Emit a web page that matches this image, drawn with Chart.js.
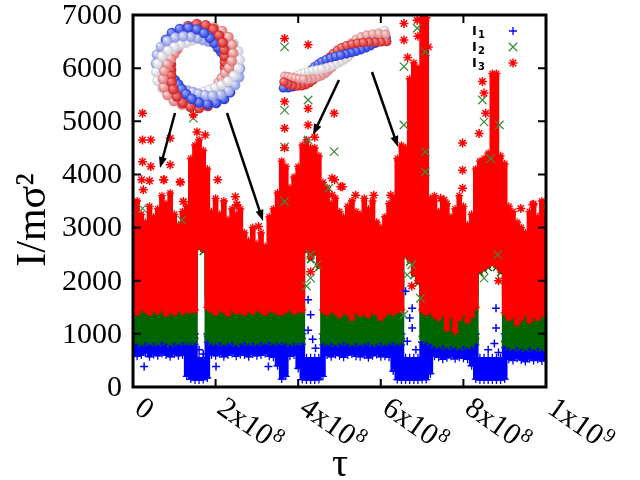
<!DOCTYPE html>
<html>
<head>
<meta charset="utf-8">
<script src="https://cdn.jsdelivr.net/npm/chart.js@4.4.1/dist/chart.umd.min.js"></script>
<style>
  html, body { margin: 0; padding: 0; background: #fff; }
  #wrap { width: 640px; height: 480px; }
</style>
</head>
<body>
<div id="wrap"><canvas id="chart" width="640" height="480"></canvas></div>
<script>
// time grid in units of 1e7 (every 1e7 steps)
const TAU_UNIT = 1e7;
const tauGrid = [
  0, 1, 2, 3, 4, 5, 6, 7, 8, 9, 10, 11, 12, 13, 14, 15, 16, 17, 18, 19,
  20, 21, 22, 23, 24, 25, 26, 27, 28, 29, 30, 31, 32, 33, 34, 35, 36, 37, 38, 39,
  40, 41, 42, 43, 44, 45, 46, 47, 48, 49, 50, 51, 52, 53, 54, 55, 56, 57, 58, 59,
  60, 61, 62, 63, 64, 65, 66, 67, 68, 69, 70, 71, 72, 73, 74, 75, 76, 77, 78, 79,
  80, 81, 82, 83, 84, 85, 86, 87, 88, 89, 90, 91, 92, 93, 94, 95, 96, 97, 98, 99, 100
];

// I3 dense cloud: upper and lower edge
const i3High = [
  3000, 3500, 3250, 3100, 3400, 3200, 3350, 3600, 3450, 3650, 3250, 3050, 3300, 3400, 4300, 4550, 4650, 4450, 4100, 3300,
  3550, 3250, 3500, 3150, 3350, 3250, 3350, 2900, 2750, 3000, 2700, 2900, 2650, 3200, 3350, 3650, 4250, 4150, 3750, 3950,
  4150, 4550, 4650, 4500, 4500, 4350, 3850, 3750, 3450, 3550, 3300, 3200, 3400, 3500, 3300, 3250, 3550, 3350, 3500, 3100,
  3000, 3200, 3450, 3550, 4300, 4550, 4500, 5800, 6100, 6000, 6950, 6950, 3550, 3600, 3300, 3500, 3450, 3200, 3350, 3600,
  3400, 3050, 3250, 4100, 4250, 4300, 4400, 5900, 5900, 4350, 4200, 3400, 3300, 3100, 3000, 2900, 3300, 3450, 3200, 3500, 3300
];
const i3Low = [
  1450, 1400, 1500, 1450, 1400, 1480, 1420, 1500, 1380, 1450, 1400, 1480, 1420, 1450, 1450, 1450, 2650, 2600, 1500, 1450,
  1400, 1480, 1450, 1380, 1500, 1420, 1450, 1400, 1480, 1420, 1500, 1450, 1400, 1480, 1450, 1420, 1400, 1450, 1500, 1420,
  1450, 1450, 2600, 2450, 2550, 2300, 1450, 1400, 1480, 1420, 1350, 1450, 1400, 1300, 1450, 1380, 1420, 1350, 1450, 1400,
  1300, 1380, 1450, 1400, 1450, 1450, 2500, 2400, 2150, 2000, 1450, 1400, 1450, 1350, 1300, 1400, 1100, 1350, 1050, 1300,
  1400, 1250, 1350, 1500, 2200, 2250, 2300, 2350, 2300, 2200, 1400, 1300, 1350, 1200, 1300, 1400, 1250, 1350, 1300, 1400, 1350
];

// I2 dense cloud
const i2High = [
  1700, 1700, 1700, 1700, 1700, 1700, 1700, 1700, 1700, 1700, 1700, 1700, 1700, 1700, 1700, 1700, 2800, 2750, 1700, 1700,
  1700, 1700, 1700, 1700, 1700, 1700, 1700, 1700, 1700, 1700, 1700, 1700, 1700, 1700, 1700, 1700, 1700, 1700, 1700, 1700,
  1700, 1700, 2750, 2600, 2700, 2450, 1700, 1700, 1700, 1700, 1700, 1700, 1700, 1700, 1700, 1700, 1700, 1700, 1700, 1700,
  1700, 1700, 1700, 1700, 1700, 1700, 2650, 2550, 2300, 2150, 1700, 1700, 1700, 1700, 1700, 1700, 1700, 1700, 1700, 1700,
  1700, 1700, 1700, 1700, 2350, 2400, 2450, 2500, 2450, 2350, 1700, 1700, 1700, 1700, 1700, 1700, 1700, 1700, 1700, 1700, 1700
];
const i2Low = [
  880, 850, 820, 870, 840, 860, 830, 880, 850, 820, 860, 840, 870, 850, 850, 860, 2600, 2550, 900, 850,
  840, 870, 830, 860, 880, 820, 850, 870, 840, 860, 830, 870, 850, 880, 840, 860, 870, 850, 830, 860,
  850, 860, 2550, 2400, 2500, 2250, 850, 830, 860, 820, 850, 870, 840, 820, 860, 830, 850, 870, 820, 840,
  860, 830, 850, 870, 840, 850, 2450, 2350, 2100, 1950, 900, 870, 850, 800, 780, 820, 760, 800, 780, 750,
  800, 770, 790, 850, 2150, 2200, 2250, 2300, 2250, 2150, 800, 760, 740, 780, 750, 730, 770, 740, 760, 730, 750
];

// I1 dense cloud
const i1High = [
  1000, 1000, 1000, 1000, 1000, 1000, 1000, 1000, 1000, 1000, 1000, 1000, 1000, 1000, 1000, 1000, 550, 550, 1000, 1000,
  1000, 1000, 1000, 1000, 1000, 1000, 1000, 1000, 1000, 1000, 1000, 1000, 1000, 1000, 1000, 1000, 1000, 1000, 1000, 1000,
  1000, 1000, 550, 550, 550, 550, 1000, 1000, 1000, 1000, 1000, 1000, 1000, 1000, 1000, 1000, 1000, 1000, 1000, 1000,
  1000, 1000, 1000, 1000, 1000, 1000, 550, 550, 550, 550, 850, 850, 1000, 1000, 1000, 1000, 1000, 1000, 1000, 1000,
  1000, 1000, 1000, 1000, 550, 550, 550, 550, 550, 550, 1000, 1000, 1000, 1000, 1000, 1000, 1000, 1000, 1000, 1000, 1000
];
const i1Low = [
  620, 580, 600, 640, 570, 610, 590, 630, 600, 570, 620, 590, 600, 200, 150, 130, 130, 140, 170, 600,
  590, 620, 570, 600, 630, 580, 610, 600, 570, 620, 590, 600, 630, 580, 560, 400, 150, 200, 580, 600,
  350, 140, 130, 130, 130, 140, 200, 600, 570, 610, 590, 560, 600, 620, 580, 570, 600, 550, 590, 610,
  570, 580, 560, 300, 140, 130, 130, 130, 130, 130, 140, 140, 250, 580, 560, 520, 550, 580, 530, 560,
  540, 520, 400, 150, 130, 130, 130, 130, 130, 130, 150, 520, 500, 540, 510, 480, 530, 500, 520, 490, 510
];

// isolated markers outside the dense clouds, [tau / 1e7, value]
const i3Points = [
  [2.3, 5150], [2.3, 4650], [4.3, 4650], [9.0, 4680], [2.3, 4240], [4.3, 4150], [9.0, 4180], [2.1, 3900],
  [4.0, 3880], [7.5, 3900], [11.5, 3850], [20.5, 3900], [17.5, 4740], [14.6, 5120], [15.5, 4800],
  [2.5, 3710], [7.4, 3900], [11.4, 3860], [12.2, 3490], [24.8, 3580], [25.2, 3425],
  [36.7, 6560], [42.4, 6440], [36.7, 5370], [42.4, 5240], [36.7, 4870], [42.4, 4930], [36.7, 4500], [44.0, 4700],
  [48.7, 5150], [48.2, 3930], [48.8, 3900], [48.2, 3610], [25.1, 3430], [30.4, 3020], [43.0, 2170],
  [65.6, 6840], [65.6, 6530], [68.8, 6900], [70.9, 6950], [66.5, 6200], [69.0, 6600], [70.5, 6700],
  [71.5, 6400], [67.5, 1900], [50.3, 3770], [50.7, 3770], [53.9, 3610], [58.3, 3610], [62.4, 3610], [62.8, 3425],
  [74.5, 3550], [75.3, 3520],
  [79.8, 4590], [79.8, 4080], [79.8, 3740], [84.6, 5750], [85.0, 5530], [85.4, 5150], [83.8, 4770], [88.5, 2000],
  [93.9, 3360], [96.8, 3430], [99.2, 3270]
];
const i2Points = [
  [14.6, 5060], [2.3, 3360], [11.8, 3140], [36.7, 6400], [42.4, 5400], [36.7, 5210], [42.4, 4650], [36.7, 4520],
  [48.7, 4430], [47.4, 3740], [43.0, 2050], [43.0, 2490], [36.7, 3490], [42.0, 1900], [44.5, 2300],
  [65.6, 6030], [68.8, 6750], [70.8, 6310], [65.6, 4930], [70.8, 4430], [66.4, 2110], [69.6, 1670], [65.6, 1360],
  [70.8, 4050], [67.5, 2300], [84.6, 5400], [85.0, 4990], [88.7, 4930], [86.6, 4300], [85.0, 2050], [88.3, 2490]
];
const i1Points = [
  [2.7, 385], [20.1, 385], [32.8, 385], [42.4, 1640], [42.4, 1070], [44.2, 730], [43.0, 1360], [43.5, 900],
  [16.0, 700], [17.0, 620], [67.6, 1480], [67.6, 1110], [66.4, 860], [66.0, 1800], [67.0, 1300], [68.5, 700],
  [87.9, 1480], [87.9, 1110], [87.5, 820], [86.0, 700], [88.5, 650]
];

const yTicks = [0, 1000, 2000, 3000, 4000, 5000, 6000, 7000];
const xTicks = [0, 2e8, 4e8, 6e8, 8e8, 1e9];
const xTickBase = ['0', '2x10', '4x10', '6x10', '8x10', '1x10'];
const xTickExp = ['', '8', '8', '8', '8', '9'];
const legendSubs = ['1', '2', '3'];

const RED = '#ff0000', GREEN = '#006400', GREEN_MARK = '#3b8a3b', BLUE = '#0000ff';
const SERIF = '"Liberation Serif", "DejaVu Serif", serif';

function band(values) {
  return tauGrid.map((t, i) => ({ x: t * TAU_UNIT, y: values[i] }));
}
function pts(list) {
  return list.map(p => ({ x: p[0] * TAU_UNIT, y: p[1] }));
}
// one edge of a dense cloud; the markers on it roughen the outline like the original scatter
function edge(values, color, fill, order, style, radius) {
  return {
    data: band(values), fill: fill, backgroundColor: color, borderColor: color,
    borderWidth: 1.5, pointRadius: radius, pointStyle: style, pointBorderWidth: 1.3,
    stepped: 'middle', order: order
  };
}

// shaded bead for the two molecule sketches
function bead(ctx, x, y, r, c) {
  const g = ctx.createRadialGradient(x - r * 0.4, y - r * 0.4, r * 0.1, x, y, r);
  g.addColorStop(0, c[0]);
  g.addColorStop(1, c[1]);
  ctx.fillStyle = g;
  ctx.beginPath();
  ctx.arc(x, y, r, 0, Math.PI * 2);
  ctx.fill();
}

function drawRing(ctx) {
  const cols = [['#ffffff', '#c9c9d8'], ['#ffd6d6', '#d97070'], ['#ff8a8a', '#c81c1c'],
                ['#9aa8ff', '#1f33d6'], ['#e4e8ff', '#8491e0']];
  const cx = 198, cy = 66, rot = -0.35, beads = [];
  for (let k = 0; k < cols.length; k++) {
    for (let j = 0; j < 30; j++) {
      const th = j / 30 * Math.PI * 2;
      const ph = th * 2 + k * 1.2566;
      const off = 8 * Math.cos(ph);
      const ex = (35 + off) * Math.cos(th), ey = (34 + off) * Math.sin(th);
      beads.push({
        x: cx + ex * Math.cos(rot) - ey * Math.sin(rot),
        y: cy + ex * Math.sin(rot) + ey * Math.cos(rot),
        z: Math.sin(ph), c: cols[k]
      });
    }
  }
  beads.sort((a, b) => a.z - b.z).forEach(b => bead(ctx, b.x, b.y, 5.2, b.c));
}

function drawRibbon(ctx) {
  const cols = [['#ff9a9a', '#cc2020'], ['#9aa8ff', '#1f33d6'], ['#ffffff', '#d0c8d0'], ['#ffd6d6', '#d98080']];
  const P = [[284, 82], [318, 86], [336, 44], [386, 36]];
  const beads = [];
  for (let k = 0; k < cols.length; k++) {
    for (let j = 0; j <= 24; j++) {
      const t = j / 24, u = 1 - t;
      const px = u * u * u * P[0][0] + 3 * u * u * t * P[1][0] + 3 * u * t * t * P[2][0] + t * t * t * P[3][0];
      const py = u * u * u * P[0][1] + 3 * u * u * t * P[1][1] + 3 * u * t * t * P[2][1] + t * t * t * P[3][1];
      const dx = 3 * u * u * (P[1][0] - P[0][0]) + 6 * u * t * (P[2][0] - P[1][0]) + 3 * t * t * (P[3][0] - P[2][0]);
      const dy = 3 * u * u * (P[1][1] - P[0][1]) + 6 * u * t * (P[2][1] - P[1][1]) + 3 * t * t * (P[3][1] - P[2][1]);
      const len = Math.hypot(dx, dy);
      const ph = t * Math.PI * 2.4 + k * Math.PI / 2;
      const off = 6 * Math.sin(ph);
      beads.push({ x: px - dy / len * off, y: py + dx / len * off, z: Math.cos(ph), c: cols[k] });
    }
  }
  beads.sort((a, b) => a.z - b.z).forEach(b => bead(ctx, b.x, b.y, 4.6, b.c));
}

function arrow(ctx, x0, y0, x1, y1) {
  const ang = Math.atan2(y1 - y0, x1 - x0);
  ctx.strokeStyle = '#000';
  ctx.fillStyle = '#000';
  ctx.lineWidth = 2.5;
  ctx.beginPath();
  ctx.moveTo(x0, y0);
  ctx.lineTo(x1 - 8 * Math.cos(ang), y1 - 8 * Math.sin(ang));
  ctx.stroke();
  ctx.beginPath();
  ctx.moveTo(x1, y1);
  ctx.lineTo(x1 - 11 * Math.cos(ang) + 4 * Math.sin(ang), y1 - 11 * Math.sin(ang) - 4 * Math.cos(ang));
  ctx.lineTo(x1 - 11 * Math.cos(ang) - 4 * Math.sin(ang), y1 - 11 * Math.sin(ang) + 4 * Math.cos(ang));
  ctx.closePath();
  ctx.fill();
}

const decor = {
  id: 'decor',
  afterDraw(chart) {
    const { ctx, chartArea: a, scales: { x, y } } = chart;
    ctx.save();

    // sketches and arrows
    drawRing(ctx);
    drawRibbon(ctx);
    arrow(ctx, 175, 113, 160, 168);
    arrow(ctx, 227, 113, 263, 221);
    arrow(ctx, 339, 80, 313, 135);
    arrow(ctx, 372, 72, 398, 147);

    // frame and inward ticks on all sides
    ctx.strokeStyle = '#000';
    ctx.lineWidth = 3;
    ctx.strokeRect(a.left, a.top, a.right - a.left, a.bottom - a.top);
    ctx.lineWidth = 2;
    ctx.beginPath();
    yTicks.forEach(v => {
      const py = y.getPixelForValue(v);
      ctx.moveTo(a.left, py); ctx.lineTo(a.left + 8, py);
      ctx.moveTo(a.right, py); ctx.lineTo(a.right - 8, py);
    });
    xTicks.forEach(v => {
      const px = x.getPixelForValue(v);
      ctx.moveTo(px, a.bottom); ctx.lineTo(px, a.bottom - 8);
      ctx.moveTo(px, a.top); ctx.lineTo(px, a.top + 8);
    });
    ctx.stroke();

    // y tick labels
    ctx.fillStyle = '#000';
    ctx.font = '30px ' + SERIF;
    ctx.textAlign = 'right';
    ctx.textBaseline = 'middle';
    yTicks.forEach(v => ctx.fillText(String(v), a.left - 11, y.getPixelForValue(v) + 1));

    // x tick labels, turned clockwise
    xTicks.forEach((v, i) => {
      const px = x.getPixelForValue(v);
      ctx.save();
      ctx.translate(px + 13, a.bottom + 6);
      ctx.rotate(35 * Math.PI / 180);
      ctx.textAlign = 'left';
      ctx.textBaseline = 'top';
      ctx.font = '30px ' + SERIF;
      ctx.fillText(xTickBase[i], 0, 0);
      const w = ctx.measureText(xTickBase[i]).width;
      ctx.font = '20px ' + SERIF;
      ctx.fillText(xTickExp[i], w + 1, -3);
      ctx.restore();
    });

    // axis titles
    ctx.save();
    ctx.translate(34, 220);
    ctx.rotate(-Math.PI / 2);
    ctx.textAlign = 'center';
    ctx.textBaseline = 'middle';
    ctx.font = '42px ' + SERIF;
    ctx.fillText('I/m\u03c3\u00b2', 0, 0);
    ctx.restore();
    ctx.textAlign = 'center';
    ctx.textBaseline = 'middle';
    ctx.font = '40px ' + SERIF;
    ctx.fillText('\u03c4', 340, 465);

    // key
    const styles = [
      { pointStyle: 'cross', radius: 4, borderWidth: 1.3, color: BLUE },
      { pointStyle: 'crossRot', radius: 6, borderWidth: 1.2, color: GREEN_MARK },
      { pointStyle: 'star', radius: 4.5, borderWidth: 1.5, color: RED }
    ];
    const rows = [31, 47, 63];
    styles.forEach((s, i) => {
      ctx.fillStyle = '#000';
      ctx.textAlign = 'left';
      ctx.textBaseline = 'alphabetic';
      ctx.font = 'bold 13px "DejaVu Sans", sans-serif';
      ctx.fillText('I', 472, rows[i] + 4);
      ctx.font = 'bold 10px "DejaVu Sans", sans-serif';
      ctx.fillText(legendSubs[i], 478, rows[i] + 7);
      ctx.strokeStyle = s.color;
      ctx.lineWidth = s.borderWidth;
      Chart.helpers.drawPoint(ctx, { pointStyle: s.pointStyle, radius: s.radius, borderWidth: s.borderWidth, rotation: 0 }, 513, rows[i]);
    });

    ctx.restore();
  }
};

new Chart(document.getElementById('chart'), {
  type: 'line',
  data: {
    datasets: [
      { data: pts(i3Points), showLine: false, pointStyle: 'star', pointRadius: 4.5, borderColor: RED, backgroundColor: RED, borderWidth: 1.5, order: 0 },
      { data: pts(i2Points), showLine: false, pointStyle: 'crossRot', pointRadius: 6, borderColor: GREEN_MARK, backgroundColor: GREEN_MARK, borderWidth: 1.2, order: 1 },
      { data: pts(i1Points), showLine: false, pointStyle: 'cross', pointRadius: 4, borderColor: BLUE, backgroundColor: BLUE, borderWidth: 1.5, order: 2 },
      edge(i3High, RED, '+1', 3, 'star', 4),
      edge(i3Low, RED, false, 4, 'star', 4),
      edge(i2High, GREEN, '+1', 5, 'crossRot', 0),
      edge(i2Low, GREEN, false, 6, 'crossRot', 5),
      edge(i1High, BLUE, '+1', 7, 'cross', 4),
      edge(i1Low, BLUE, false, 8, 'cross', 4)
    ]
  },
  options: {
    responsive: false,
    animation: false,
    devicePixelRatio: 1,
    layout: { padding: { left: 133, right: 94, top: 15, bottom: 93 } },
    scales: {
      x: { type: 'linear', min: 0, max: 1e9, display: false },
      y: { type: 'linear', min: 0, max: 7000, display: false }
    },
    plugins: {
      legend: { display: false },
      tooltip: { enabled: false }
    }
  },
  plugins: [decor]
});
</script>
</body>
</html>
